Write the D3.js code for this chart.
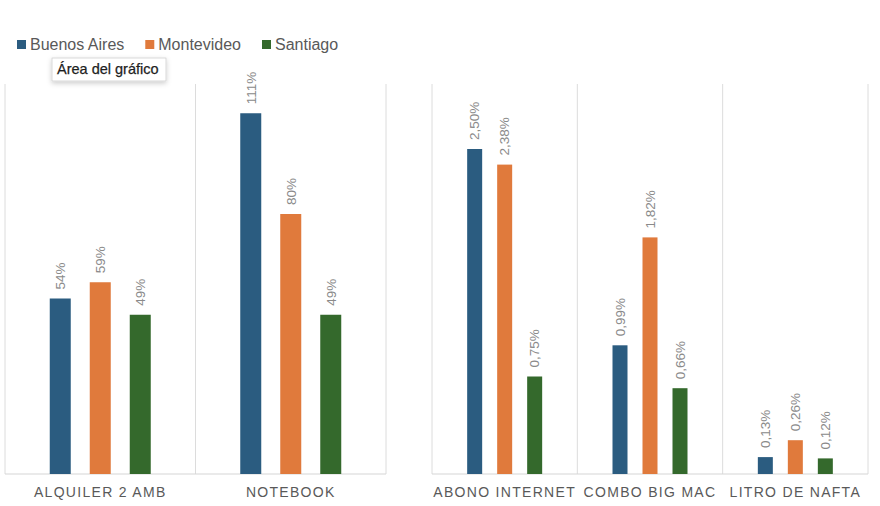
<!DOCTYPE html>
<head>
<style>
  body { margin: 0; background: #fff; }
  text { font-family: "Liberation Sans", Arial, sans-serif; }
</style>
</head>
<body>
<svg id="chart" width="880" height="506"></svg>

<script src="https://d3js.org/d3.v7.min.js"></script>
<script>
    // data
    let series = ["Buenos Aires", "Montevideo", "Santiago"]
    let colors = ["#2B5C80", "#E07A3C", "#34692C"]

    let leftCategories = ["ALQUILER 2 AMB", "NOTEBOOK"]
    let leftBuenosAires = [0.54, 1.11]
    let leftMontevideo = [0.59, 0.80]
    let leftSantiago = [0.49, 0.49]

    let rightCategories = ["ABONO INTERNET", "COMBO BIG MAC", "LITRO DE NAFTA"]
    let rightBuenosAires = [0.0250, 0.0099, 0.0013]
    let rightMontevideo = [0.0238, 0.0182, 0.0026]
    let rightSantiago = [0.0075, 0.0066, 0.0012]

    let svg = d3.select("#chart")
    let baseY = 474, topY = 84

    function drawPanel(opts) {
        let x = d3.scaleBand().domain(opts.categories).range([opts.x0, opts.x1])
        let y = d3.scaleLinear().domain([0, opts.max]).range([baseY, topY])
        let inner = d3.scalePoint().domain(series).range([-opts.step, opts.step])
        let g = svg.append("g")

        // separators
        let edges = opts.categories.map(c => x(c)).concat([opts.x1])
        g.selectAll("line.sep").data(edges).enter().append("line")
            .attr("x1", d => d).attr("x2", d => d)
            .attr("y1", topY).attr("y2", baseY)
            .attr("stroke", "#dcdcdc").attr("stroke-width", 1)
        g.append("line")
            .attr("x1", opts.x0).attr("x2", opts.x1)
            .attr("y1", baseY).attr("y2", baseY)
            .attr("stroke", "#d6d6d6").attr("stroke-width", 1.2)

        let rows = []
        series.forEach((s, i) => {
            opts.values[i].forEach((v, j) => {
                rows.push({ s: s, i: i, cat: opts.categories[j], v: v })
            })
        })

        let cx = d => x(d.cat) + x.bandwidth() / 2 + inner(d.s)

        g.selectAll("rect").data(rows).enter().append("rect")
            .attr("x", d => cx(d) - opts.barW / 2)
            .attr("width", opts.barW)
            .attr("y", d => y(d.v))
            .attr("height", d => baseY - y(d.v))
            .attr("fill", d => colors[d.i])

        g.selectAll("text.lbl").data(rows).enter().append("text")
            .attr("transform", d => "translate(" + (cx(d) + 4.8) + "," + (y(d.v) - 9) + ") rotate(-90)")
            .attr("font-size", 13.5)
            .attr("fill", "#8a8a8a")
            .text(d => opts.fmt(d.v))

        g.selectAll("text.cat").data(opts.categories).enter().append("text")
            .attr("x", d => x(d) + x.bandwidth() / 2)
            .attr("y", 497)
            .attr("text-anchor", "middle")
            .attr("font-size", 14)
            .attr("letter-spacing", "1.3px")
            .attr("fill", "#595959")
            .text(d => d)
    }

    drawPanel({
        categories: leftCategories,
        values: [leftBuenosAires, leftMontevideo, leftSantiago],
        x0: 5, x1: 386, max: 1.2, step: 40, barW: 21,
        fmt: v => Math.round(v * 100) + "%"
    })

    drawPanel({
        categories: rightCategories,
        values: [rightBuenosAires, rightMontevideo, rightSantiago],
        x0: 432, x1: 868, max: 0.03, step: 30, barW: 15,
        fmt: v => (v * 100).toFixed(2).replace(".", ",") + "%"
    })

    // legend
    let lx = 17
    series.forEach((s, i) => {
        svg.append("rect").attr("x", lx).attr("y", 40).attr("width", 9).attr("height", 9).attr("fill", colors[i])
        let t = svg.append("text").attr("x", lx + 13).attr("y", 50)
            .attr("font-size", 16).attr("fill", "#595959").text(s)
        lx = lx + 13 + t.node().getComputedTextLength() + 21
    })

    // tooltip
    let defs = svg.append("defs")
    let f = defs.append("filter").attr("id", "shadow").attr("x", "-20%").attr("y", "-40%").attr("width", "140%").attr("height", "200%")
    f.append("feDropShadow").attr("dx", 0).attr("dy", 2).attr("stdDeviation", 2.5).attr("flood-color", "#000").attr("flood-opacity", 0.2)
    svg.append("rect").attr("x", 52).attr("y", 58).attr("width", 114).attr("height", 23)
        .attr("fill", "#fff").attr("stroke", "#d0d0d0").attr("stroke-width", 0.8)
        .attr("filter", "url(#shadow)")
    svg.append("text").attr("x", 57).attr("y", 74).attr("font-size", 14.5)
        .attr("fill", "#1e1e1e").attr("stroke", "#1e1e1e").attr("stroke-width", 0.25)
        .text("Área del gráfico")
</script>
</body>
